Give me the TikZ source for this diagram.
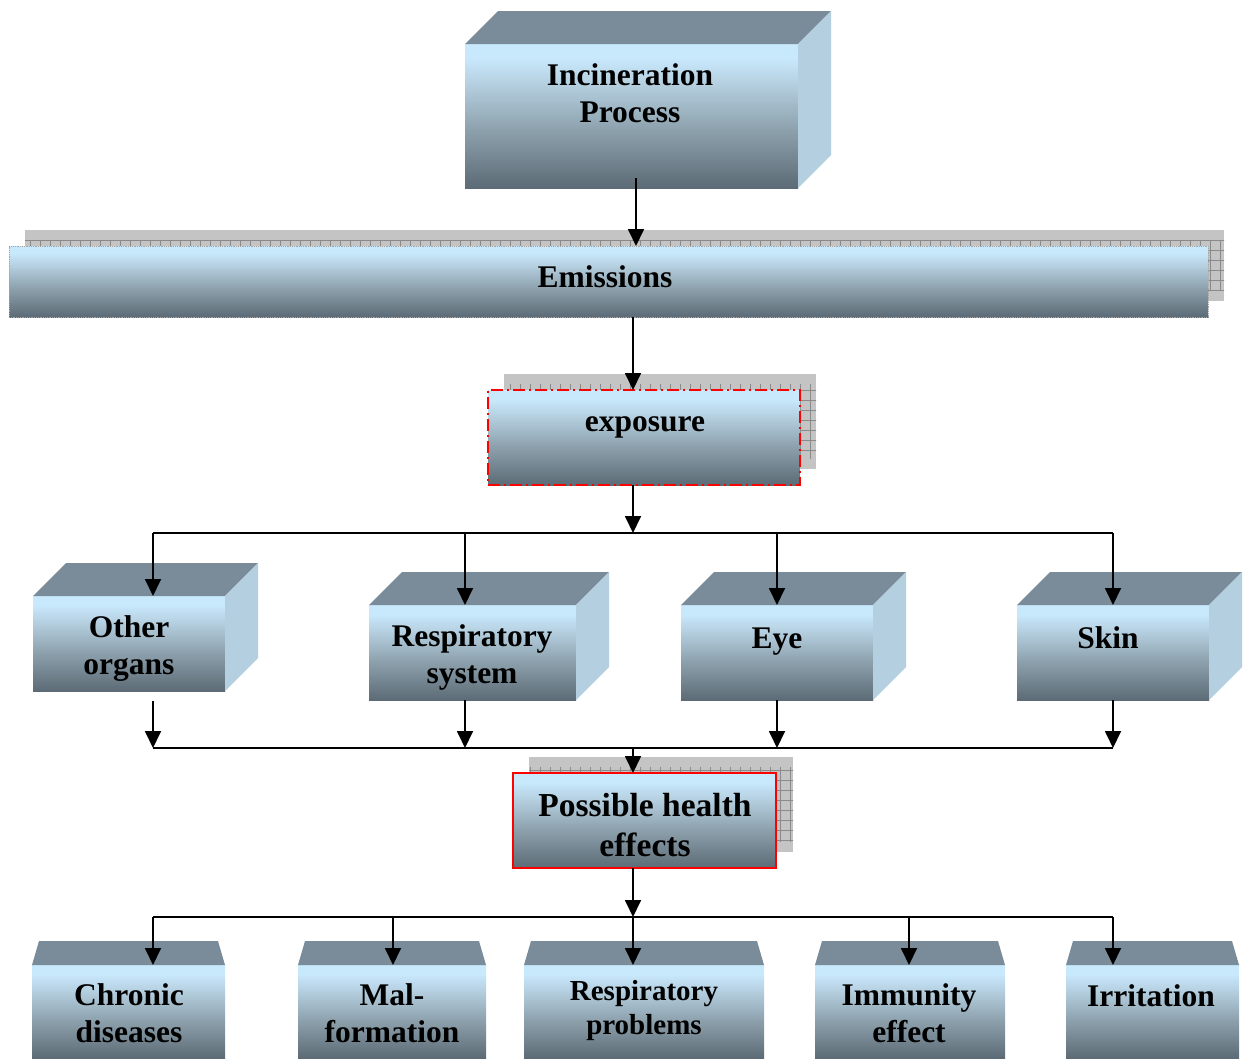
\documentclass[tikz,border=0pt]{standalone}
\usepackage{fontspec}
\setmainfont{Liberation Serif}
\usetikzlibrary{arrows.meta}
\definecolor{lt}{RGB}{200,232,252}
\definecolor{lm}{RGB}{178,204,220}
\definecolor{md}{RGB}{140,160,172}
\definecolor{dk}{RGB}{92,107,118}
\definecolor{topf}{RGB}{122,140,153}
\definecolor{sidef}{RGB}{180,207,224}
\definecolor{hatchf}{RGB}{196,196,196}
\definecolor{hatchl}{RGB}{138,138,138}
\pgfdeclareverticalshading{boxshade}{100bp}{color(0bp)=(dk); color(25bp)=(dk); color(45bp)=(md); color(60bp)=(lm); color(70bp)=(lt); color(75bp)=(lt); color(100bp)=(lt)}
\newcommand\cubefaces[2]{%
  \fill[topf] (#1.north west) -- ++(#2,-#2) -- ([shift={(#2,-#2)}]#1.north east) -- (#1.north east) -- cycle;
  \fill[sidef] (#1.north east) -- ++(#2,-#2) -- ([shift={(#2,-#2)}]#1.south east) -- (#1.south east) -- cycle;}
\newcommand\trapface[1]{%
  \fill[topf] (#1.north west) -- ++(7,-24) -- ([shift={(-7,-24)}]#1.north east) -- (#1.north east) -- cycle;}
\newcommand\hatchrect[4]{%
  \begin{scope}
    \clip (#1,#2) rectangle (#3,#4);
    \fill[hatchf] (#1,#2) rectangle (#3,#4);
    \draw[hatchl, line width=0.9pt, step=10pt] (#1-10,#2+10) grid (#3+10,#4-10);
  \end{scope}}
\tikzset{
  front/.style={shading=boxshade, draw=none, rectangle, outer sep=0pt, inner sep=0pt},
  txt/.style={font=\fontsize{31.5}{37}\selectfont\bfseries, align=center, inner sep=0pt, text=black},
  arr/.style={line width=1.8pt, -{Triangle[length=17pt,width=16pt]}},
  ln/.style={line width=1.8pt},
}
\begin{document}
\begin{tikzpicture}[x=1pt,y=-1pt]
\useasboundingbox (0,0) rectangle (1245,1058);
\fill[white] (0,0) rectangle (1245,1058);

% Incineration
\node[front, minimum width=333pt, minimum height=144pt] (inc) at (631.5,116) {};
\cubefaces{inc}{33}
\node[txt] (incT) at (630,93) {Incineration\\Process};

% Emissions
\hatchrect{25}{230}{1224}{301}
\node[front, minimum width=1199pt, minimum height=71pt, draw=gray!70, densely dotted, line width=0.8pt] (emis) at (608.5,281.5) {};
\node[txt] (emisT) at (605,277) {Emissions};

% exposure
\hatchrect{504}{374}{816}{469}
\node[front, minimum width=312pt, minimum height=95pt, draw=red, line width=1.8pt, dash pattern=on 12pt off 4pt on 2pt off 4pt] (expo) at (644,437.5) {};
\node[txt] (expoT) at (645,427) {exposure};

% middle row
\node[front, minimum width=192pt, minimum height=95pt] (oth) at (129,643.5) {};
\cubefaces{oth}{33}
\node[txt] (othT) at (129,649) {Other\\organs};

\node[front, minimum width=207pt, minimum height=95pt] (resp) at (472.5,652.5) {};
\cubefaces{resp}{33}
\node[txt] (respT) at (472,657) {Respiratory\\system};

\node[front, minimum width=192pt, minimum height=95pt] (eye) at (777,652.5) {};
\cubefaces{eye}{33}
\node[txt] (eyeT) at (777,642) {Eye};

\node[front, minimum width=192pt, minimum height=95pt] (skin) at (1113,652.5) {};
\cubefaces{skin}{33}
\node[txt] (skinT) at (1108,638) {Skin};

% Possible health effects
\hatchrect{529}{757}{793}{852}
\node[front, minimum width=263pt, minimum height=95pt, draw=red, line width=1.8pt] (phe) at (644.5,820.5) {};
\node[txt, font=\fontsize{33.5}{40}\selectfont\bfseries] (pheT) at (645,825) {Possible health\\effects};

% bottom row
\node[front, minimum width=193pt, minimum height=93pt] (chr) at (128.5,1011.5) {};
\trapface{chr}
\node[txt] (chrT) at (129,1013) {Chronic\\diseases};

\node[front, minimum width=188pt, minimum height=93pt] (mal) at (392,1011.5) {};
\trapface{mal}
\node[txt] (malT) at (392,1013) {Mal-\\formation};

\node[front, minimum width=240pt, minimum height=93pt] (rpr) at (644,1011.5) {};
\trapface{rpr}
\node[txt, font=\fontsize{29}{34}\selectfont\bfseries] (rprT) at (644,1011) {Respiratory\\problems};

\node[front, minimum width=190pt, minimum height=93pt] (imm) at (910,1011.5) {};
\trapface{imm}
\node[txt] (immT) at (909,1013) {Immunity\\effect};

\node[front, minimum width=173pt, minimum height=93pt] (irr) at (1152.5,1011.5) {};
\trapface{irr}
\node[txt] (irrT) at (1151,996) {Irritation};

% bus coordinates
\coordinate (b1) at (633,533);
\coordinate (b1L) at (153,533);
\coordinate (b1R) at (1113,533);
\coordinate (b2) at (633,748);
\coordinate (b2L) at (153,748);
\coordinate (b2R) at (1113,748);
\coordinate (b3) at (633,917);
\coordinate (b3L) at (153,917);
\coordinate (b3R) at (1113,917);

% connectors
\draw[arr] ([xshift=4.5pt,yshift=10pt]inc.south) -- ([xshift=4.5pt]inc.south |- emis.north);
\draw[arr] (emis.south -| b1) -- (expo.north -| b1);
\draw[arr] (expo.south -| b1) -- (b1);
\draw[ln] (b1L) -- (b1R);
\draw[arr] (b1L) -- (b1L |- oth.north);
\draw[arr] (b1 -| 465,0) -- (resp.north -| 465,0);
\draw[arr] (b1 -| eye.north) -- (eye.north);
\draw[arr] (b1R) -- (b1R |- skin.north);

\draw[arr] ([yshift=-10pt]oth.south -| b2L) -- (b2L);
\draw[arr] (resp.south -| 465,0) -- (b2 -| 465,0);
\draw[arr] (eye.south) -- (b2 -| eye.south);
\draw[arr] (skin.south -| b2R) -- (b2R);
\draw[ln] (b2L) -- (b2R);
\draw[arr] (b2) -- (phe.north -| b2);

\draw[arr] (phe.south -| b3) -- (b3);
\draw[ln] (b3L) -- (b3R);
\draw[arr] (b3L) -- (b3L |- chr.north);
\draw[arr] (b3 -| 393,0) -- (mal.north -| 393,0);
\draw[arr] (b3) -- (rpr.north -| b3);
\draw[arr] (b3 -| 909,0) -- (imm.north -| 909,0);
\draw[arr] (b3R) -- (b3R |- irr.north);
\end{tikzpicture}
\end{document}
